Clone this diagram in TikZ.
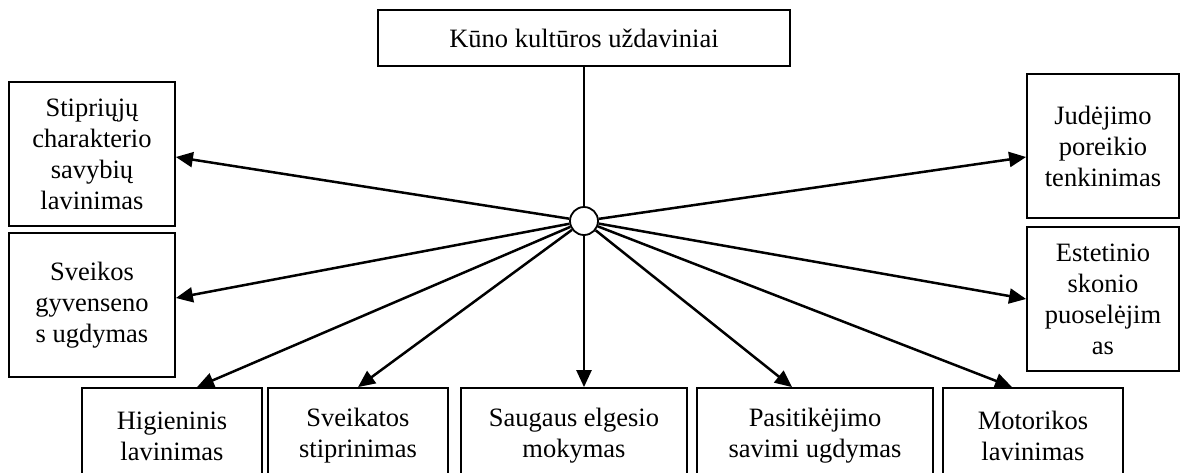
\documentclass[tikz,border=0pt]{standalone}
\usepackage{fontspec}
\setmainfont{Liberation Serif}
\usetikzlibrary{arrows.meta}
\begin{document}
\begin{tikzpicture}[x=1pt,y=-1pt,
  box/.style={draw, line width=1.8pt, inner sep=0pt, align=center,
    font=\fontsize{26.5}{31}\selectfont},
  hub/.style={draw, circle, line width=1.8pt, minimum size=28pt, inner sep=0pt, fill=white},
  link/.style={line width=2.5pt, -{Triangle[length=17pt,width=15pt]}},
  stem/.style={line width=1.6pt}]
\useasboundingbox (0,0) rectangle (1181,472);
\clip (0,0) rectangle (1181,472);

% title box and central hub
\node[box, minimum width=412, minimum height=56] (top) at (584,38) {Kūno kultūros uždaviniai};
\node[hub] (c) at (584,221) {};

% left column
\node[box, minimum width=166, minimum height=144] (stip) at (92,154) {Stipriųjų\\charakterio\\savybių\\lavinimas};
\node[box, minimum width=166, minimum height=144] (svg) at (92,305) {Sveikos\\gyvenseno\\s ugdymas};

% right column
\node[box, minimum width=152, minimum height=144] (jud) at (1103,146) {Judėjimo\\poreikio\\tenkinimas};
\node[box, minimum width=152, minimum height=144] (est) at (1103,299) {Estetinio\\skonio\\puoselėjim\\as};

% bottom row
\node[box, minimum width=180, minimum height=96] (hig) at (172,436) {Higieninis\\lavinimas};
\node[box, minimum width=180, minimum height=96] (svk) at (358,436) {Sveikatos\\stiprinimas};
\node[box, minimum width=226, minimum height=96] (saug) at (574,436) {Saugaus elgesio\\mokymas};
\node[box, minimum width=236, minimum height=96] (pas) at (815,436) {Pasitikėjimo\\savimi ugdymas};
\node[box, minimum width=180, minimum height=96] (mot) at (1033,436) {Motorikos\\lavinimas};

% connectors
\draw[stem] (top) -- (c);
\draw[link] (c) -- ([yshift=-3pt]stip.east);
\draw[link] (c) -- ([yshift=7pt]svg.east);
\draw[link] (c) -- ([yshift=-11pt]jud.west);
\draw[link] (c) -- (est.west);
\draw[link] (c) -- ([xshift=25pt]hig.north);
\draw[link] (c) -- (svk.north);
\draw[link] (c) -- (c |- saug.north);
\draw[link] (c) -- ([xshift=-23pt]pas.north);
\draw[link] (c) -- ([xshift=-21pt]mot.north);
\end{tikzpicture}
\end{document}
